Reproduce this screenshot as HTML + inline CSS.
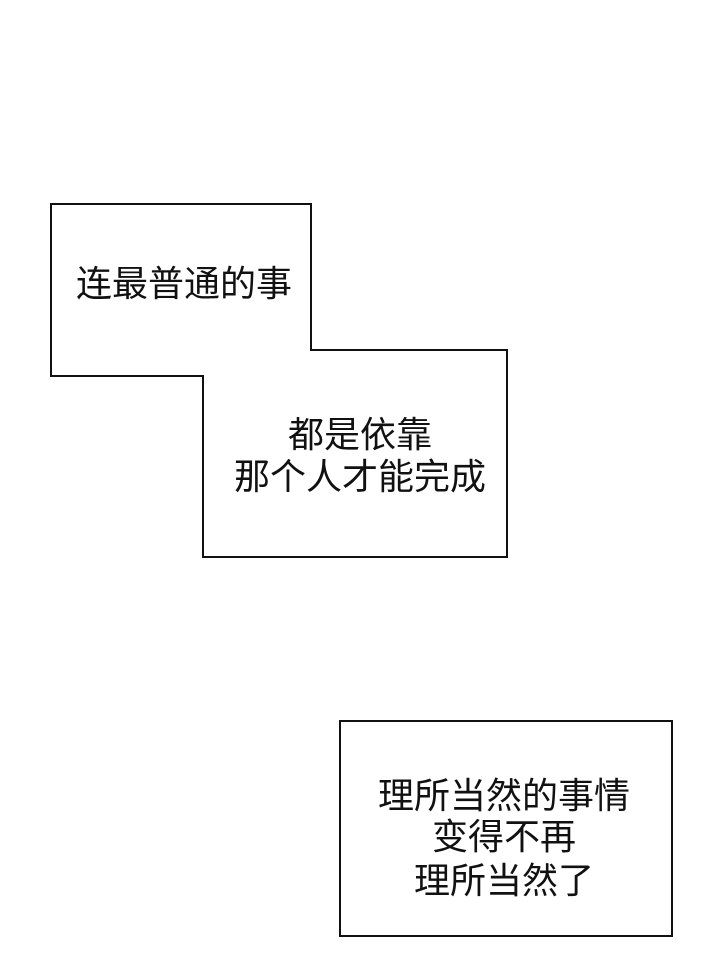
<!DOCTYPE html>
<html><head><meta charset="utf-8"><style>
html,body{margin:0;padding:0;background:#fff;width:720px;height:961px;overflow:hidden}
svg text{font-family:"Liberation Sans","Noto Sans CJK SC",sans-serif;font-size:36px;fill:#111}
</style></head><body>
<svg width="720" height="961" viewBox="0 0 720 961">
<polygon points="51,204 311,204 311,350 507,350 507,557 203,557 203,376 51,376" fill="#fff" stroke="#111" stroke-width="2"/>
<rect x="340" y="721" width="332" height="215" fill="#fff" stroke="#111" stroke-width="2"/>
<text x="184" y="296" text-anchor="middle">连最普通的事</text>
<text x="360" y="447" text-anchor="middle">都是依靠</text>
<text x="360" y="489" text-anchor="middle">那个人才能完成</text>
<text x="504" y="808" text-anchor="middle">理所当然的事情</text>
<text x="504" y="849" text-anchor="middle">变得不再</text>
<text x="504" y="893" text-anchor="middle">理所当然了</text>
</svg>
</body></html>
